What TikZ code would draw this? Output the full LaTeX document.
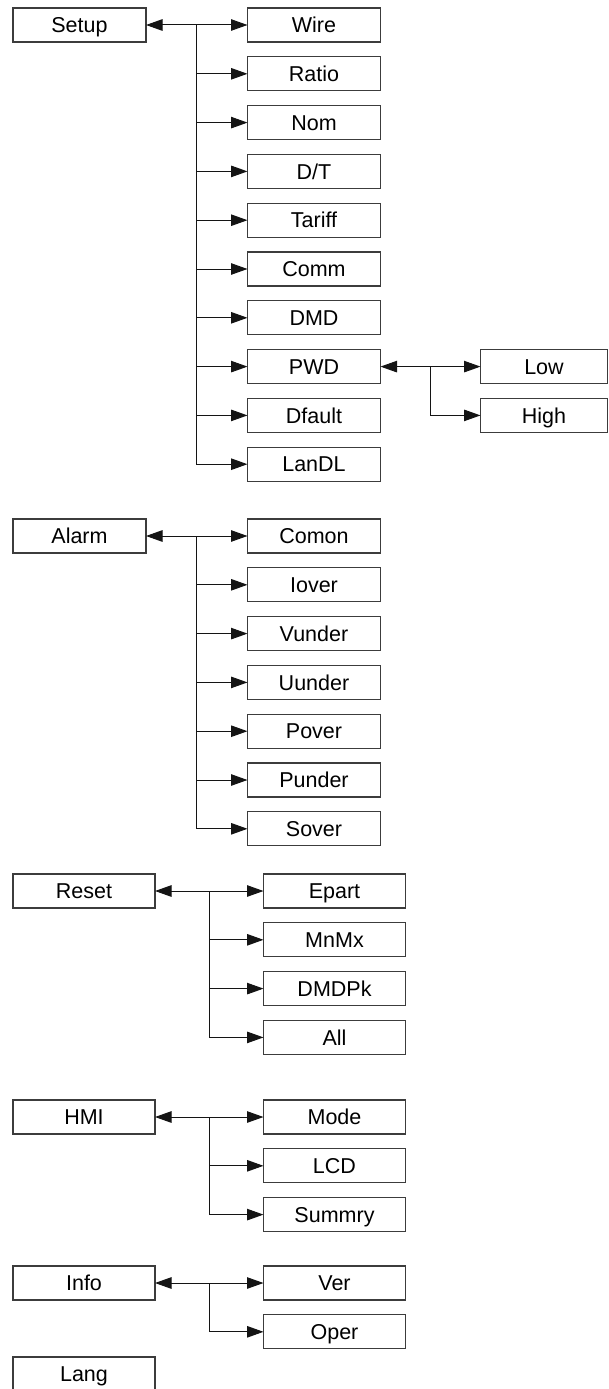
\documentclass[tikz,border=0pt]{standalone}
\usepackage{fontspec}
\setmainfont{Liberation Sans}
\usetikzlibrary{positioning, calc, arrows.meta}
\definecolor{edge}{RGB}{60, 60, 60}
\definecolor{wire}{RGB}{20, 20, 20}

\begin{document}
\begin{tikzpicture}[
    x=1pt, y=-1pt,
    box/.style={
        draw=edge,
        line width=1.2pt,
        fill=white,
        minimum height=34pt,
        inner sep=0pt,
        outer sep=0pt,
        text height=15.2pt,
        text depth=0pt,
        font=\fontsize{21.5}{25}\selectfont
    },
    narrow/.style={box, minimum width=133pt},
    wide/.style={box, minimum width=142pt},
    leaf/.style={box, minimum width=127pt},
    branch/.style={draw=wire, line width=1pt, -{Triangle[length=16.5pt, width=11.5pt]}},
    twoway/.style={draw=wire, line width=1pt, {Triangle[length=16.5pt, width=11.5pt]}-{Triangle[length=16.5pt, width=11.5pt]}},
    node distance=14.8pt
]

\useasboundingbox (0,0) rectangle (609,1389);

% Setup
\node[narrow] (setup) at (79.5,25) {Setup};
\node[narrow] (wire) at (314,25) {Wire};
\node[narrow, below=of wire] (ratio) {Ratio};
\node[narrow, below=of ratio] (nom) {Nom};
\node[narrow, below=of nom] (dt) {D/T};
\node[narrow, below=of dt] (tariff) {Tariff};
\node[narrow, below=of tariff] (comm) {Comm};
\node[narrow, below=of comm] (dmd) {DMD};
\node[narrow, below=of dmd] (pwd) {PWD};
\node[narrow, below=of pwd] (dfault) {Dfault};
\node[narrow, below=of dfault] (landl) {LanDL};

\node[leaf, anchor=west] (low) at ($(pwd.east)+(100,0)$) {Low};
\node[leaf, below=of low] (high) {High};

\coordinate (setupj) at ($(setup.east)!0.5!(wire.west)$);
\draw[twoway] (setup.east) -- (wire.west);
\draw[branch] (setupj) |- (ratio.west);
\draw[branch] (setupj) |- (nom.west);
\draw[branch] (setupj) |- (dt.west);
\draw[branch] (setupj) |- (tariff.west);
\draw[branch] (setupj) |- (comm.west);
\draw[branch] (setupj) |- (dmd.west);
\draw[branch] (setupj) |- (pwd.west);
\draw[branch] (setupj) |- (dfault.west);
\draw[branch] (setupj) |- (landl.west);

\coordinate (pwdj) at ($(pwd.east)!0.5!(low.west)$);
\draw[twoway] (pwd.east) -- (low.west);
\draw[branch] (pwdj) |- (high.west);

% Alarm
\node[narrow] (alarm) at (79.5,536) {Alarm};
\node[narrow] (comon) at (314,536) {Comon};
\node[narrow, below=of comon] (iover) {Iover};
\node[narrow, below=of iover] (vunder) {Vunder};
\node[narrow, below=of vunder] (uunder) {Uunder};
\node[narrow, below=of uunder] (pover) {Pover};
\node[narrow, below=of pover] (punder) {Punder};
\node[narrow, below=of punder] (sover) {Sover};

\coordinate (alarmj) at ($(alarm.east)!0.5!(comon.west)$);
\draw[twoway] (alarm.east) -- (comon.west);
\draw[branch] (alarmj) |- (iover.west);
\draw[branch] (alarmj) |- (vunder.west);
\draw[branch] (alarmj) |- (uunder.west);
\draw[branch] (alarmj) |- (pover.west);
\draw[branch] (alarmj) |- (punder.west);
\draw[branch] (alarmj) |- (sover.west);

% Reset
\node[wide] (reset) at (84,891) {Reset};
\node[wide] (epart) at (334.5,891) {Epart};
\node[wide, below=of epart] (mnmx) {MnMx};
\node[wide, below=of mnmx] (dmdpk) {DMDPk};
\node[wide, below=of dmdpk] (all) {All};

\coordinate (resetj) at ($(reset.east)!0.5!(epart.west)$);
\draw[twoway] (reset.east) -- (epart.west);
\draw[branch] (resetj) |- (mnmx.west);
\draw[branch] (resetj) |- (dmdpk.west);
\draw[branch] (resetj) |- (all.west);

% HMI
\node[wide] (hmi) at (84,1117) {HMI};
\node[wide] (mode) at (334.5,1117) {Mode};
\node[wide, below=of mode] (lcd) {LCD};
\node[wide, below=of lcd] (summry) {Summry};

\coordinate (hmij) at ($(hmi.east)!0.5!(mode.west)$);
\draw[twoway] (hmi.east) -- (mode.west);
\draw[branch] (hmij) |- (lcd.west);
\draw[branch] (hmij) |- (summry.west);

% Info
\node[wide] (info) at (84,1283) {Info};
\node[wide] (ver) at (334.5,1283) {Ver};
\node[wide, below=of ver] (oper) {Oper};

\coordinate (infoj) at ($(info.east)!0.5!(ver.west)$);
\draw[twoway] (info.east) -- (ver.west);
\draw[branch] (infoj) |- (oper.west);

% Lang
\node[wide] (lang) at (84,1374) {Lang};

\end{tikzpicture}
\end{document}
